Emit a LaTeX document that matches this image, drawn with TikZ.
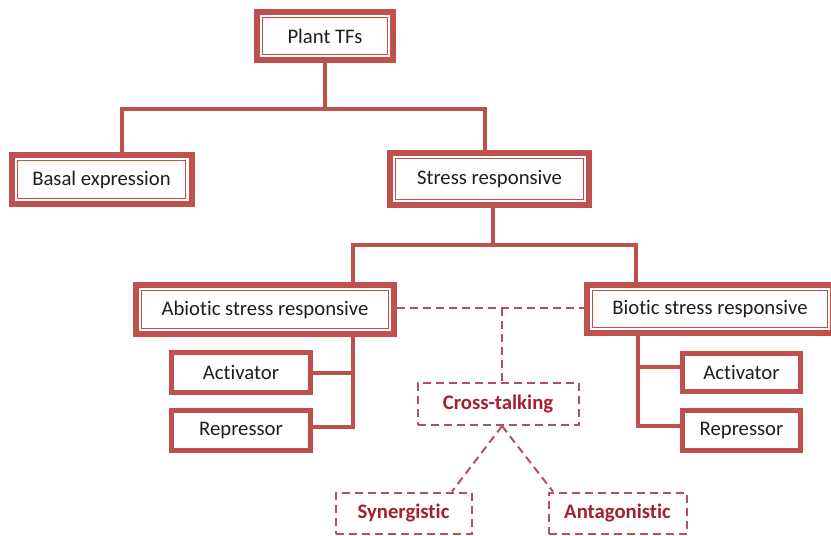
\documentclass[tikz,border=0pt]{standalone}
\usepackage{fontspec}
\setmainfont{Carlito}[Ligatures=NoCommon]
\usetikzlibrary{backgrounds}
\definecolor{boxred}{HTML}{C0504D}
\definecolor{dashred}{HTML}{B4505C}
\definecolor{textred}{HTML}{A3202E}
\definecolor{ink}{HTML}{1E1E1E}
\begin{document}
\begin{tikzpicture}[x=1pt,y=-1pt,
  every node/.style={font=\fontsize{20.7}{24}\selectfont, text=ink, inner sep=0pt},
  dblbox/.style={draw=boxred, line width=6pt, fill=white,
    path picture={\draw[boxred, line width=1.3pt]
      ([shift={(5.8pt,5.8pt)}]path picture bounding box.south west) rectangle
      ([shift={(-5.8pt,-5.8pt)}]path picture bounding box.north east);}},
  onebox/.style={draw=boxred, line width=5pt, fill=white},
  dashbox/.style={draw=dashred, line width=2pt, dash pattern=on 8pt off 5pt,
    font=\fontsize{20.7}{24}\selectfont\bfseries, text=textred},
  conn/.style={draw=boxred, line width=4.5pt},
  dconn/.style={draw=dashred, line width=2pt, dash pattern=on 8pt off 5pt}]
\useasboundingbox (0,0) rectangle (831,536);

% main tree
\node[dblbox, minimum width=136pt, minimum height=48pt] (plant) at (325,36) {Plant TFs};
\node[dblbox, minimum width=180pt, minimum height=49pt] (basal) at (101.5,179.5) {Basal expression};
\node[dblbox, minimum width=199pt, minimum height=52pt] (stress) at (489.5,179) {Stress responsive};
\node[dblbox, minimum width=258pt, minimum height=49pt] (abiotic) at (265,309.5) {Abiotic stress responsive};
\node[dblbox, minimum width=246pt, minimum height=48pt] (biotic) at (710,309) {Biotic stress responsive};

% leaves
\node[onebox, minimum width=139pt, minimum height=40pt] (act1) at (241,372.5) {Activator};
\node[onebox, minimum width=139pt, minimum height=40pt] (rep1) at (241,430.5) {Repressor};
\node[onebox, minimum width=118pt, minimum height=38pt] (act2) at (741.5,372.5) {Activator};
\node[onebox, minimum width=118pt, minimum height=40pt] (rep2) at (741.5,430.5) {Repressor};

% interaction boxes
\node[dashbox, minimum width=161pt, minimum height=42pt] (cross) at (498,404) {Cross-talking};
\node[dashbox, minimum width=136pt, minimum height=41pt] (syn) at (403.5,513) {Synergistic};
\node[dashbox, minimum width=138pt, minimum height=41pt] (ant) at (617.5,513) {Antagonistic};

\begin{pgfonlayer}{background}
% solid connectors
\coordinate (j1) at (plant.south |- 0,109);
\draw[conn] (plant.south) -- (j1);
\draw[conn] (j1) -| (basal.north -| 122,0);
\draw[conn] (j1) -| (stress.north -| 485,0);
\coordinate (j2) at (493,245);
\draw[conn] (stress.south -| j2) -- (j2);
\draw[conn] (j2) -| (abiotic.north -| 353,0);
\draw[conn] (j2) -| (biotic.north -| 636,0);

\draw[conn] (abiotic.south -| 353,0) |- (rep1.east |- 0,427);
\draw[conn] (act1.east |- 0,373) -- (353,373);
\draw[conn] (biotic.south -| 638,0) |- (rep2.west |- 0,426);
\draw[conn] (act2.west |- 0,367) -- (638,367);

% dashed connectors
\draw[dconn] (abiotic.east |- 0,308) -- (biotic.west |- 0,308);
\draw[dconn] (502,308) -- (cross.north -| 502,0);
\draw[dconn] (cross.south -| 502,0) -- (syn.north -| 452,0);
\draw[dconn] (cross.south -| 502,0) -- (ant.north -| 553,0);
\end{pgfonlayer}
\end{tikzpicture}
\end{document}
